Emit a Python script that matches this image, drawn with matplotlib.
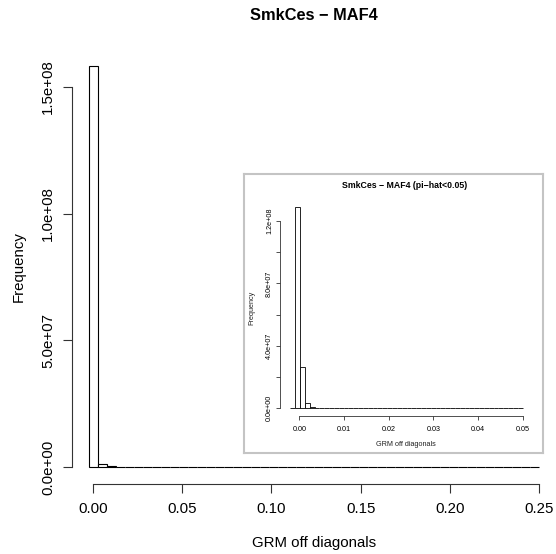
import numpy as np
import matplotlib
matplotlib.use("Agg")
import matplotlib.pyplot as plt

plt.rcParams['font.family'] = ['Liberation Sans', 'DejaVu Sans']

# full range histogram of GRM off-diagonal values
main_edges = np.linspace(-0.002, 0.25, 51)
main_counts = [1.584e8, 1.2e6, 2.0e5, 6.0e4, 2.0e4] + [0] * 45

# zoomed histogram, pairs with pi-hat < 0.05
inset_edges = np.linspace(-0.002, 0.05, 49)
inset_counts = [2.0e5, 1.288e8, 2.63e7, 3.2e6, 8.0e5, 3.0e5, 1.2e5, 6.0e4,
                3.0e4, 1.5e4, 8.0e3, 5.0e3, 3.0e3, 2.0e3] + [0] * 34

main_xticks = [0.0, 0.05, 0.10, 0.15, 0.20, 0.25]
main_xlabels = ["0.00", "0.05", "0.10", "0.15", "0.20", "0.25"]
main_yticks = [0, 5e7, 1e8, 1.5e8]
main_ylabels = ["0.0e+00", "5.0e+07", "1.0e+08", "1.5e+08"]

inset_xticks = [0.0, 0.01, 0.02, 0.03, 0.04, 0.05]
inset_xlabels = ["0.00", "0.01", "0.02", "0.03", "0.04", "0.05"]
inset_yticks = [0, 2e7, 4e7, 6e7, 8e7, 1e8, 1.2e8]
inset_ylabels = ["0.0e+00", "", "4.0e+07", "", "8.0e+07", "", "1.2e+08"]

W, H = 556, 554


def px_axes(fig, left, top, right, bottom):
    """Add axes from pixel box coordinates (origin top-left)."""
    return fig.add_axes([left / W, 1 - bottom / H, (right - left) / W, (bottom - top) / H])


def r_hist(ax, edges, counts, xticks, xlabels, yticks, ylabels,
           fs, tick_len, xpad, ypad, lw):
    widths = np.diff(edges)
    ax.bar(edges[:-1], counts, width=widths, align='edge',
           facecolor='white', edgecolor='black', linewidth=lw)
    for side in ['top', 'right']:
        ax.spines[side].set_visible(False)
    ax.spines['left'].set_bounds(yticks[0], yticks[-1])
    ax.spines['bottom'].set_bounds(xticks[0], xticks[-1])
    for side in ['left', 'bottom']:
        ax.spines[side].set_linewidth(lw)
        ax.spines[side].set_color('#333333')
    ax.set_xticks(xticks)
    ax.set_xticklabels(xlabels, fontsize=fs)
    ax.set_yticks(yticks)
    ax.set_yticklabels(ylabels, fontsize=fs, rotation=90, va='center')
    ax.tick_params(axis='both', length=tick_len, width=lw, color='#333333')
    ax.tick_params(axis='x', pad=xpad)
    ax.tick_params(axis='y', pad=ypad)
    ax.set_facecolor('none')


fig = plt.figure(figsize=(W / 100, H / 100), dpi=100)

ax = px_axes(fig, 72, 50, 556, 484)
r_hist(ax, main_edges, main_counts, main_xticks, main_xlabels,
       main_yticks, main_ylabels, fs=10.8, tick_len=6.3, xpad=7, ypad=6, lw=0.8)
ax.set_xlim(-0.01177, 0.25953)
ax.set_ylim(-6.71e6, 1.646e8)

fig.text(314 / W, 1 - 15 / H, "SmkCes \u2212 MAF4", fontsize=11.8,
         fontweight='bold', ha='center', va='center')
fig.text(314 / W, 1 - 543 / H, "GRM off diagonals", fontsize=10.8,
         ha='center', va='center')
fig.text(19 / W, 1 - 267 / H, "Frequency", fontsize=10.8, rotation=90,
         ha='center', va='center')

# gray frame behind the inset
frame = px_axes(fig, 244, 174, 543, 453)
frame.set_xticks([])
frame.set_yticks([])
frame.set_facecolor('white')
for s in frame.spines.values():
    s.set_color('#c4c4c4')
    s.set_linewidth(1.5)

inset = px_axes(fig, 280, 199, 532, 416)
r_hist(inset, inset_edges, inset_counts, inset_xticks, inset_xlabels,
       inset_yticks, inset_ylabels, fs=5.2, tick_len=3, xpad=4.5, ypad=2, lw=0.6)
inset.set_xlim(-0.00432, 0.05209)
inset.set_ylim(-4.93e6, 1.341e8)

fig.text(405 / W, 1 - 185 / H, "SmkCes \u2212 MAF4 (pi\u2212hat<0.05)", fontsize=6.3,
         fontweight='bold', ha='center', va='center')
fig.text(406 / W, 1 - 445 / H, "GRM off diagonals", fontsize=5.2,
         ha='center', va='center', color='#222222')
fig.text(252 / W, 1 - 308 / H, "Frequency", fontsize=5.2, rotation=90,
         ha='center', va='center', color='#222222')

fig.savefig("out.png", dpi=100)
